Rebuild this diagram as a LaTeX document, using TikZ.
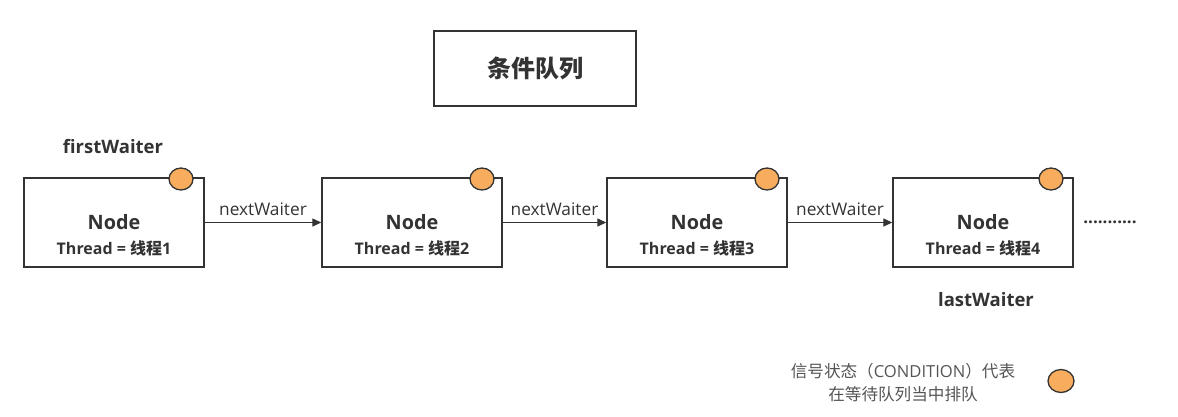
\documentclass[tikz,border=0pt]{standalone}
\usepackage{fontspec}
\setmainfont{Open Sans}
\newfontfamily\cjk{Noto Sans CJK SC}
\usetikzlibrary{arrows.meta,shapes.geometric}
\definecolor{txt}{HTML}{333333}
\definecolor{org}{HTML}{F8AC5E}
\definecolor{gr}{HTML}{555555}
\tikzset{
  nodebox/.style={draw=txt,line width=1.4pt,fill=white,minimum width=180pt,minimum height=89pt,inner sep=0pt},
  sig/.style={draw=txt,line width=1.3pt,fill=org,ellipse,minimum width=24pt,minimum height=22pt,inner sep=0pt},
  conn/.style={draw=txt,line width=1.3pt,-{Triangle[length=9pt,width=8pt]}},
  lbl/.style={text=txt,font=\fontsize{17.3}{19}\selectfont},
  ttl/.style={text=txt,font=\bfseries\fontsize{18.5}{21}\selectfont},
}
\begin{document}
\begin{tikzpicture}[x=1pt,y=-1pt]
\useasboundingbox[fill=white] (0,0) rectangle (1178,416);
\node[draw=txt,line width=1.4pt,minimum width=202pt,minimum height=75pt,inner sep=0pt,text=txt,font=\cjk\bfseries\fontsize{24}{28}\selectfont] (title) at (535,68.5) {条件队列};
\foreach \i/\x/\cx in {1/114/181,2/412/482,3/697/767,4/983/1051}{
  \node[nodebox] (n\i) at (\x,222.5) {};
  \node[text=txt,font=\bfseries\fontsize{19.8}{22}\selectfont] (nn\i) at (\x,222) {Node};
  \node[text=txt,font=\bfseries\fontsize{16}{18}\selectfont] (nt\i) at (\x,248) {Thread = {\cjk 线程}\i};
  \node[sig] (c\i) at (\cx,179) {};
}
\draw[conn] (n1.east) -- node[lbl,above=3pt] (l1) {nextWaiter} (n2.west);
\draw[conn] (n2.east) -- node[lbl,above=3pt] (l2) {nextWaiter} (n3.west);
\draw[conn] (n3.east) -- node[lbl,above=3pt] (l3) {nextWaiter} (n4.west);
\node[text=txt,font=\bfseries\fontsize{17}{18}\selectfont] (dots) at (1110,222.5) {...........};
\node[ttl] (fw) at (113,147) {firstWaiter};
\node[ttl] (lw) at (986,300) {lastWaiter};
\node[text=gr,font=\cjk\fontsize{16.6}{23}\selectfont,align=center] (leg) at (903,383) {信号状态（{\fontspec{Open Sans}CONDITION}）代表\\在等待队列当中排队};
\node[sig,minimum width=26pt,minimum height=23pt] (lc) at (1061,381) {};
\end{tikzpicture}
\end{document}
